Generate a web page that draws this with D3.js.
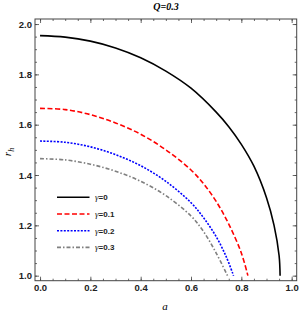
<!DOCTYPE html>
<html>
<head>
<meta charset="utf-8">
<script src="https://cdn.jsdelivr.net/npm/d3@7"></script>
<style>
  body { margin: 0; background: #fff; }
  svg { display: block; }
</style>
</head>
<body>
<div id="chart"></div>
<script>
// values (a on x, r_h on y)
var aG0 = [0, 0.1, 0.2, 0.3, 0.4, 0.5, 0.6, 0.7, 0.75, 0.8, 0.85, 0.9, 0.93, 0.95, 0.954];
var rG0 = [1.954, 1.948, 1.932, 1.905, 1.866, 1.813, 1.745, 1.65, 1.592, 1.522, 1.435, 1.31, 1.2, 1.08, 1.0];

var aG1 = [0, 0.1, 0.2, 0.3, 0.4, 0.5, 0.6, 0.65, 0.7, 0.75, 0.8, 0.826];
var rG1 = [1.665, 1.66, 1.64, 1.607, 1.562, 1.5, 1.42, 1.365, 1.295, 1.205, 1.09, 1.0];

var aG2 = [0, 0.1, 0.2, 0.3, 0.4, 0.5, 0.6, 0.65, 0.7, 0.74, 0.769];
var rG2 = [1.535, 1.53, 1.512, 1.481, 1.437, 1.375, 1.29, 1.23, 1.155, 1.075, 1.0];

var aG3 = [0, 0.1, 0.2, 0.3, 0.4, 0.5, 0.6, 0.65, 0.7, 0.745];
var rG3 = [1.465, 1.46, 1.443, 1.415, 1.375, 1.318, 1.237, 1.175, 1.09, 1.0];

var legendLabels = ["0", "0.1", "0.2", "0.3"];
var xTicks = [0, 0.2, 0.4, 0.6, 0.8, 1.0];
var yTicks = [1.0, 1.2, 1.4, 1.6, 1.8, 2.0];

var series = [
  {a: aG0, r: rG0, color: "#000000", dash: null},
  {a: aG1, r: rG1, color: "#ff0000", dash: "5,2.5"},
  {a: aG2, r: rG2, color: "#0000ff", dash: "2,1.4"},
  {a: aG3, r: rG3, color: "#808080", dash: "4,2,1.5,2"}
];

var W = 300, H = 315;
// plot frame edges
var fL = 35, fT = 19, fR = 296.7, fB = 280.7;

var svg = d3.select("#chart").append("svg")
    .attr("width", W)
    .attr("height", H);

var x = d3.scaleLinear().domain([-0.02, 1.02]).range([fL, fR]);
var y = d3.scaleLinear().domain([0.98, 2.02]).range([fB, fT]);

var minorX = d3.range(0, 1.0001, 0.05);
var minorY = d3.range(1.0, 2.0001, 0.05);

// minor ticks on all four sides
svg.append("g").attr("transform", `translate(0,${fB})`)
  .call(d3.axisBottom(x).tickValues(minorX).tickSizeInner(-2).tickSizeOuter(0).tickFormat(""));
svg.append("g").attr("transform", `translate(0,${fT})`)
  .call(d3.axisTop(x).tickValues(minorX).tickSizeInner(-2).tickSizeOuter(0).tickFormat(""));
svg.append("g").attr("transform", `translate(${fL},0)`)
  .call(d3.axisLeft(y).tickValues(minorY).tickSizeInner(-2).tickSizeOuter(0).tickFormat(""));
svg.append("g").attr("transform", `translate(${fR},0)`)
  .call(d3.axisRight(y).tickValues(minorY).tickSizeInner(-2).tickSizeOuter(0).tickFormat(""));

// major ticks
svg.append("g").attr("class", "lab").attr("transform", `translate(0,${fB})`)
  .call(d3.axisBottom(x).tickValues(xTicks).tickSizeInner(-4).tickSizeOuter(0).tickPadding(4).tickFormat(d3.format(".1f")));
svg.append("g").attr("transform", `translate(0,${fT})`)
  .call(d3.axisTop(x).tickValues(xTicks).tickSizeInner(-4).tickSizeOuter(0).tickFormat(""));
svg.append("g").attr("class", "lab").attr("transform", `translate(${fL},0)`)
  .call(d3.axisLeft(y).tickValues(yTicks).tickSizeInner(-4).tickSizeOuter(0).tickPadding(3).tickFormat(d3.format(".1f")));
svg.append("g").attr("transform", `translate(${fR},0)`)
  .call(d3.axisRight(y).tickValues(yTicks).tickSizeInner(-4).tickSizeOuter(0).tickFormat(""));

svg.selectAll(".domain").remove();
svg.selectAll(".tick line").attr("stroke", "#444").attr("stroke-width", 0.8);
svg.selectAll(".lab text")
  .attr("fill", "#222")
  .style("font-family", "'Liberation Sans', Arial, sans-serif")
  .style("font-size", "9.5px")
  .style("font-weight", "bold");

// frame
svg.append("rect")
  .attr("x", fL).attr("y", fT)
  .attr("width", fR - fL).attr("height", fB - fT)
  .attr("fill", "none")
  .attr("stroke", "#444")
  .attr("stroke-width", 1);

// curves
var line = d3.line()
  .x(function(d) { return x(d[0]); })
  .y(function(d) { return y(d[1]); })
  .curve(d3.curveCatmullRom.alpha(0.5));

series.forEach(function(s) {
  var pts = s.a.map(function(v, i) { return [v, s.r[i]]; });
  svg.append("path")
    .datum(pts)
    .attr("fill", "none")
    .attr("stroke", s.color)
    .attr("stroke-width", 1.6)
    .attr("stroke-dasharray", s.dash)
    .attr("d", line);
});

// legend
var lg = svg.append("g");
series.forEach(function(s, i) {
  var yy = 197.3 + i * 16.7;
  lg.append("line")
    .attr("x1", 57).attr("x2", 89.5)
    .attr("y1", yy).attr("y2", yy)
    .attr("stroke", s.color)
    .attr("stroke-width", 1.6)
    .attr("stroke-dasharray", s.dash);
  var t = lg.append("text")
    .attr("x", 95).attr("y", yy + 3)
    .attr("fill", "#222")
    .style("font-family", "'Liberation Sans', Arial, sans-serif")
    .style("font-size", "8px")
    .style("font-weight", "bold");
  t.append("tspan").style("font-style", "italic").style("font-weight", "normal")
    .style("font-family", "'Liberation Serif', serif").style("font-size", "9px").text("γ");
  t.append("tspan").text("=" + legendLabels[i]);
});

// title
svg.append("text")
  .attr("x", 166).attr("y", 10)
  .attr("text-anchor", "middle")
  .style("font-family", "'Liberation Serif', 'Times New Roman', serif")
  .style("font-style", "italic")
  .style("font-weight", "bold")
  .style("font-size", "10px")
  .text("Q=0.3");

// axis labels
svg.append("text")
  .attr("x", 165).attr("y", 310)
  .attr("text-anchor", "middle")
  .style("font-family", "'Liberation Serif', 'Times New Roman', serif")
  .style("font-style", "italic")
  .style("font-size", "11px")
  .text("a");

var yl = svg.append("text")
  .attr("transform", "translate(11,152) rotate(-90)")
  .attr("text-anchor", "middle")
  .style("font-family", "'Liberation Serif', 'Times New Roman', serif")
  .style("font-style", "italic")
  .style("font-size", "11px");
yl.append("tspan").text("r");
yl.append("tspan").attr("dy", 2.5).style("font-size", "8px").text("h");
</script>
</body>
</html>
